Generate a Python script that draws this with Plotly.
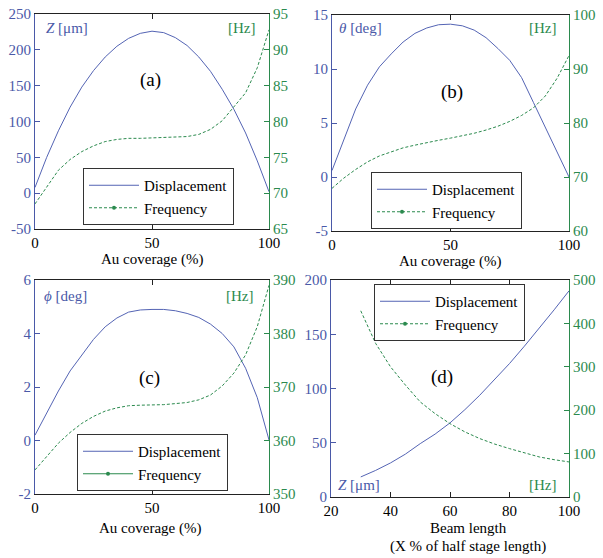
import plotly.graph_objects as go

W, H = 603, 558
BLUE_TXT = "#4a59a8"
BLUE_LINE = "#5464b4"
GREEN = "#2b8a4e"
FONT = "'Liberation Serif', 'Times New Roman', Times, serif"

# ---------------- data ----------------
coverage = [0, 5, 10, 15, 20, 25, 30, 35, 40, 45, 50, 55, 60, 65, 70, 75, 80, 85, 90, 95, 100]

disp_a = [8, 50, 87, 120, 148, 171, 190, 205, 216, 223, 226, 224, 217, 206, 190, 170, 145, 117, 84, 45, 2]
freq_a = [68.5, 70.9, 73.2, 74.7, 75.8, 76.6, 77.2, 77.5, 77.65, 77.65, 77.7, 77.7, 77.8, 77.9, 78.2, 78.9, 80.1, 82.0, 84.0, 87.5, 92.8]

disp_b = [0.6, 3.5, 6.3, 8.5, 10.2, 11.4, 12.5, 13.3, 13.8, 14.1, 14.15, 14.0, 13.6, 12.9, 11.9, 10.8, 9.2, 6.9, 4.6, 2.3, 0.0]
freq_b = [67.9, 69.8, 71.4, 72.8, 73.9, 74.7, 75.4, 75.9, 76.4, 76.8, 77.2, 77.6, 78.1, 78.7, 79.4, 80.3, 81.4, 82.8, 85.0, 88.3, 92.5]

disp_c = [0.2, 1.05, 1.85, 2.6, 3.2, 3.78, 4.25, 4.58, 4.8, 4.88, 4.9, 4.9, 4.85, 4.75, 4.6, 4.35, 4.0, 3.5, 2.7, 1.6, 0.02]
freq_c = [354.5, 357.0, 359.5, 361.5, 363.2, 364.5, 365.5, 366.1, 366.5, 366.6, 366.6, 366.7, 366.9, 367.1, 367.6, 368.5, 370.2, 372.6, 376.0, 381.3, 389.0]

beam = [30, 35, 40, 45, 50, 55, 60, 65, 70, 75, 80, 85, 90, 95, 100]
disp_d = [18.5, 24.5, 31.4, 39.5, 49.2, 58, 68.3, 80.5, 93.8, 108, 123, 139, 155.4, 172.5, 190]
freq_d = [429, 354, 300, 258, 219, 192, 169, 150, 134.6, 122, 111.5, 101.5, 92.3, 86, 80.8]

xticks_cov = [0, 50, 100]
xticks_beam = [20, 40, 60, 80, 100]
lticks_a = [-50, 0, 50, 100, 150, 200, 250]
rticks_a = [65, 70, 75, 80, 85, 90, 95]
lticks_b = [-5, 0, 5, 10, 15]
rticks_b = [60, 70, 80, 90, 100]
lticks_c = [-2, 0, 2, 4, 6]
rticks_c = [350, 360, 370, 380, 390]
lticks_d = [0, 50, 100, 150, 200]
rticks_d = [0, 100, 200, 300, 400, 500]

panel_labels = ["(a)", "(b)", "(c)", "(d)"]
left_labels = ["<i>Z</i> [μm]", "<i>θ</i> [deg]", "<i>ϕ</i> [deg]", "<i>Z</i> [μm]"]
right_label = "[Hz]"
xtitle_cov = "Au coverage (%)"
xtitle_beam = ["Beam length", "(X % of half stage length)"]
legend_names = ["Displacement", "Frequency"]

# ---------------- layout helpers ----------------
def px(x):
    return x / W

def py(y):
    return 1 - y / H

DASH = "3px,2px"

panels = [
    dict(x=coverage, d=disp_a, f=freq_a, xr=(35, 269), yr=(14, 229), xt=xticks_cov, lt=lticks_a, rt=rticks_a,
         lab=(150, 80), ll=(44, 28), rl=(257, 28), leg=(83, 168), fdash_leg=DASH),
    dict(x=coverage, d=disp_b, f=freq_b, xr=(332, 569), yr=(15, 231), xt=xticks_cov, lt=lticks_b, rt=rticks_b,
         lab=(452, 92), ll=(337, 28), rl=(558, 28), leg=(371, 172), fdash_leg=DASH),
    dict(x=coverage, d=disp_c, f=freq_c, xr=(35, 269), yr=(280, 494), xt=xticks_cov, lt=lticks_c, rt=rticks_c,
         lab=(149, 378), ll=(42, 296), rl=(255, 296), leg=(77, 434), fdash_leg="solid"),
    dict(x=beam, d=disp_d, f=freq_d, xr=(331, 569), yr=(280, 497), xt=xticks_beam, lt=lticks_d, rt=rticks_d,
         lab=(442, 377), ll=(336, 485), rl=(558, 485), leg=(374, 284), fdash_leg=DASH),
]

fig = go.Figure()
layout = dict(
    template="none",
    width=W, height=H, margin=dict(l=0, r=0, t=0, b=0, pad=0),
    paper_bgcolor="white", plot_bgcolor="white",
    font=dict(family=FONT, size=15, color="black"),
    annotations=[],
)

for i, p in enumerate(panels):
    n = i + 1
    xa = "x" if n == 1 else f"x{n}"
    yl_n = 2 * i + 1
    yr_n = 2 * i + 2
    yl = "y" if yl_n == 1 else f"y{yl_n}"
    yr = f"y{yr_n}"
    legname = "legend" if n == 1 else f"legend{n}"

    xt, lt, rt = p["xt"], p["lt"], p["rt"]
    layout["xaxis" if n == 1 else f"xaxis{n}"] = dict(
        domain=[px(p["xr"][0]), px(p["xr"][1])], anchor=yl, automargin=False,
        range=[xt[0], xt[-1]], tickvals=xt, ticktext=[str(v) for v in xt],
        ticks="inside", ticklen=5, tickcolor="#222", showline=True, linecolor="#222", linewidth=1,
        mirror="ticks", showgrid=False, zeroline=False,
        tickfont=dict(family=FONT, size=15, color="black"),
    )
    layout["yaxis" if yl_n == 1 else f"yaxis{yl_n}"] = dict(
        domain=[py(p["yr"][1]), py(p["yr"][0])], anchor=xa, automargin=False,
        range=[lt[0], lt[-1]], tickvals=lt, ticktext=[str(v) for v in lt],
        ticks="inside", ticklen=5, tickcolor=BLUE_TXT, showline=True, linecolor=BLUE_TXT, linewidth=1,
        showgrid=False, zeroline=False,
        tickfont=dict(family=FONT, size=15, color=BLUE_TXT),
    )
    layout[f"yaxis{yr_n}"] = dict(
        overlaying=yl, side="right", anchor=xa, automargin=False,
        range=[rt[0], rt[-1]], tickvals=rt, ticktext=[str(v) for v in rt],
        ticks="inside", ticklen=5, tickcolor=GREEN, showline=True, linecolor=GREEN, linewidth=1,
        showgrid=False, zeroline=False,
        tickfont=dict(family=FONT, size=15, color=GREEN),
    )

    fig.add_trace(go.Scatter(x=p["x"], y=p["d"], xaxis=xa, yaxis=yl, mode="lines",
                             line=dict(color=BLUE_LINE, width=1), showlegend=False, hoverinfo="skip"))
    fig.add_trace(go.Scatter(x=p["x"], y=p["f"], xaxis=xa, yaxis=yr, mode="lines",
                             line=dict(color=GREEN, width=1, dash=DASH), showlegend=False, hoverinfo="skip"))
    # legend entries
    fig.add_trace(go.Scatter(x=[None], y=[None], xaxis=xa, yaxis=yl, mode="lines", name=legend_names[0],
                             line=dict(color=BLUE_LINE, width=1), legend=legname))
    fig.add_trace(go.Scatter(x=[None], y=[None], xaxis=xa, yaxis=yr, mode="lines+markers", name=legend_names[1],
                             line=dict(color=GREEN, width=1, dash=p["fdash_leg"]),
                             marker=dict(color=GREEN, size=4), legend=legname))

    layout[legname] = dict(
        x=px(p["leg"][0]), y=py(p["leg"][1]), xanchor="left", yanchor="top",
        bgcolor="white", bordercolor="#333", borderwidth=1, itemwidth=50,
        font=dict(family=FONT, size=15, color="black"), tracegroupgap=0,
    )

    ann = layout["annotations"]
    ann.append(dict(text=panel_labels[i], x=px(p["lab"][0]), y=py(p["lab"][1]), xref="paper", yref="paper",
                    xanchor="center", yanchor="middle",
                    showarrow=False, font=dict(family=FONT, size=19, color="black")))
    ann.append(dict(text=left_labels[i], x=px(p["ll"][0]), y=py(p["ll"][1]), xref="paper", yref="paper",
                    xanchor="left", yanchor="middle", showarrow=False,
                    font=dict(family=FONT, size=15, color=BLUE_TXT)))
    ann.append(dict(text=right_label, x=px(p["rl"][0]), y=py(p["rl"][1]), xref="paper", yref="paper",
                    xanchor="right", yanchor="middle", showarrow=False,
                    font=dict(family=FONT, size=15, color=GREEN)))

ann = layout["annotations"]
for text, cx, cy in [(xtitle_cov, 152, 259), (xtitle_cov, 450, 261), (xtitle_cov, 150, 528),
                     (xtitle_beam[0], 468, 528), (xtitle_beam[1], 468, 546)]:
    ann.append(dict(text=text, x=px(cx), y=py(cy), xref="paper", yref="paper", showarrow=False,
                    xanchor="center", yanchor="middle", font=dict(family=FONT, size=15)))

fig.update_layout(**layout)
fig.write_html("out.html", config={"displayModeBar": False},
               post_script="document.body.style.margin='0px';")
